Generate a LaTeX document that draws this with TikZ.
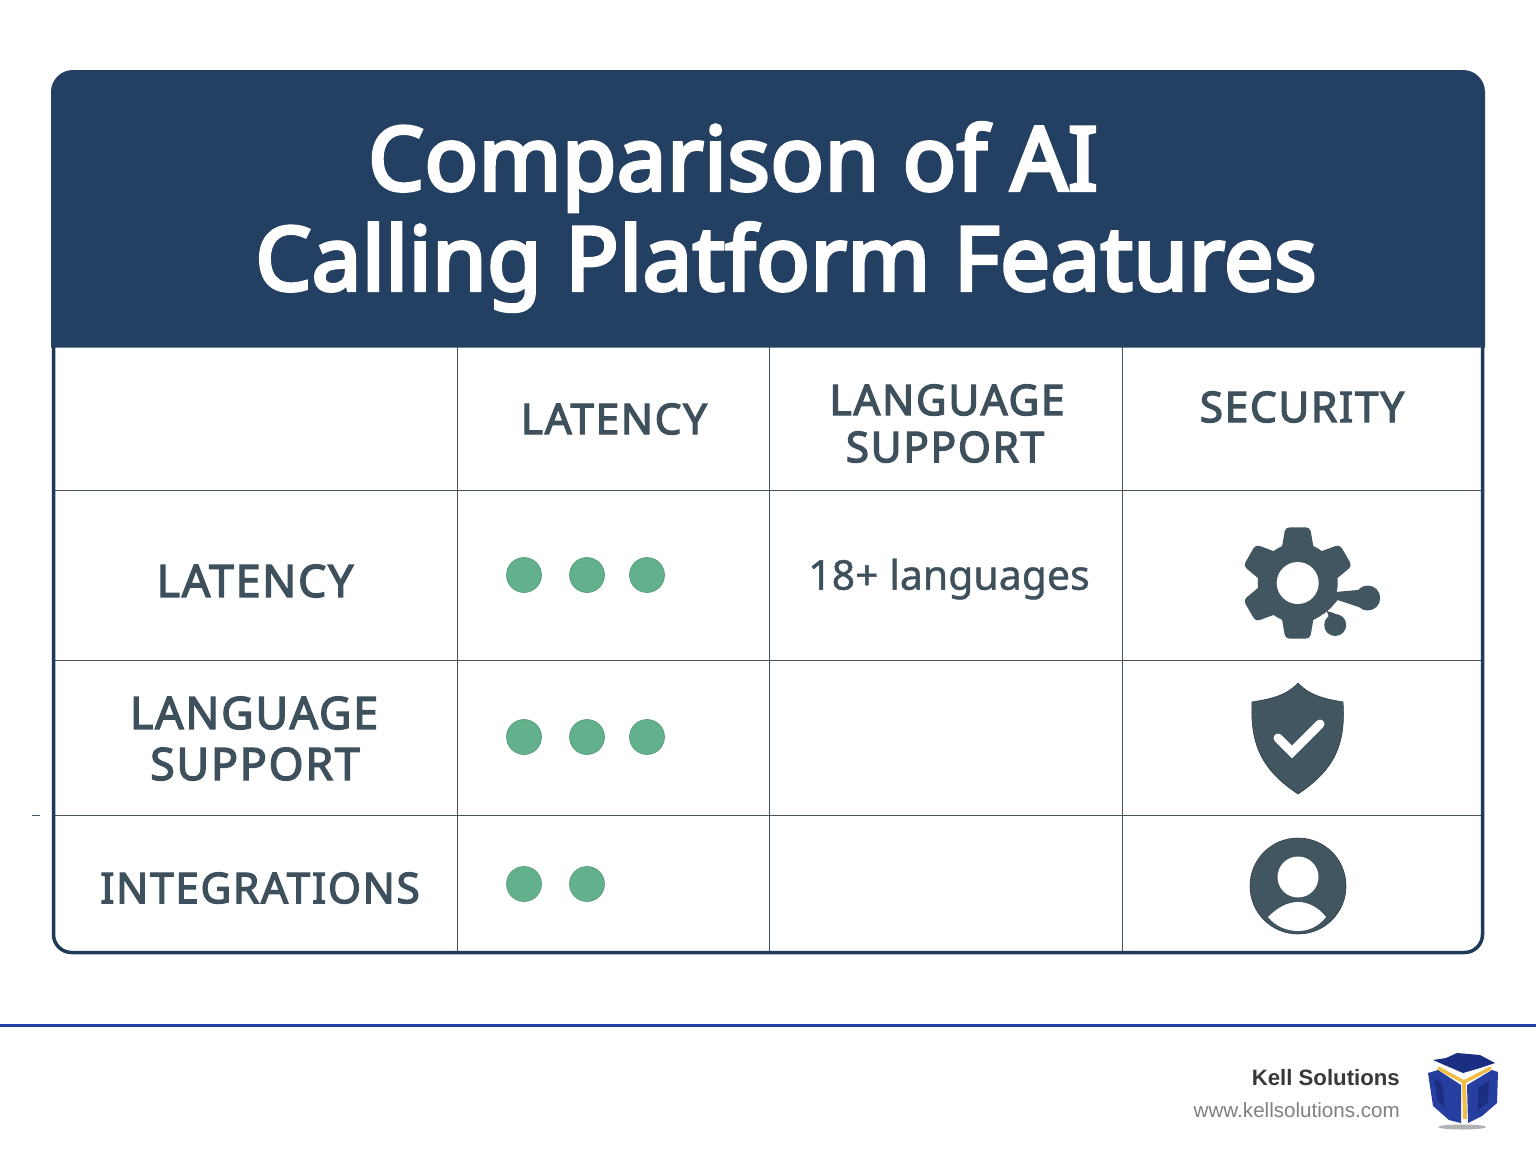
\documentclass[tikz,border=0pt]{standalone}
\usepackage{fontspec}
\setmainfont{Noto Sans}
\newfontfamily\titlefont[FakeBold=4,LetterSpace=0.6]{Noto Sans}
\newfontfamily\labelfont[FakeBold=3,LetterSpace=4]{Noto Sans}
\newfontfamily\mediumfont[FakeBold=1]{Noto Sans}
\newfontfamily\footfont{Liberation Sans}
\definecolor{headblue}{RGB}{35,63,97}
\definecolor{borderblue}{RGB}{30,58,90}
\definecolor{gridgray}{RGB}{70,84,96}
\definecolor{labelgray}{RGB}{62,80,92}
\definecolor{icongray}{RGB}{65,86,96}
\definecolor{dotgreen}{RGB}{98,177,140}
\definecolor{rulecolor}{RGB}{36,64,160}
\definecolor{logoblue}{RGB}{38,62,160}
\definecolor{logodark}{RGB}{28,46,130}
\definecolor{logoyellow}{RGB}{240,190,70}
\tikzset{
  titletext/.style={text=white, inner sep=0pt, font=\titlefont\fontsize{88.5}{96}\selectfont},
  celltext/.style={text=labelgray, inner sep=0pt, font=\labelfont\fontsize{42.3}{50}\selectfont},
  rowtext/.style={text=labelgray, inner sep=0pt, font=\labelfont\fontsize{44.7}{52}\selectfont},
  ratingdot/.style={circle, fill=dotgreen, draw=dotgreen!85!black, line width=0.6pt, minimum size=35pt, inner sep=0pt},
  gridline/.style={draw=gridgray, line width=1pt},
  iconfill/.style={fill=icongray}
}
\begin{document}
\begin{tikzpicture}[x=1pt, y=-1pt]
  \useasboundingbox (0,0) rectangle (1536,1154);
  % Header and frame
  \fill[white] (0,0) rectangle (1536,1154);
  \draw[gridline] (55,490) -- (1481,490);
  \draw[gridline] (55,660) -- (1481,660);
  \draw[gridline] (55,815) -- (1481,815);
  \draw[gridline] (457,347) -- (457,952);
  \draw[gridline] (769,347) -- (769,952);
  \draw[gridline] (1122,347) -- (1122,952);
  \draw[borderblue, line width=3.5pt, rounded corners=18pt] (53.5,340) -- (53.5,952.5) -- (1482.5,952.5) -- (1482.5,340);
  \fill[headblue] (51,347.5) -- (51,92) arc[start angle=180, end angle=90, x radius=22, y radius=-22] -- (1463,70) arc[start angle=90, end angle=0, x radius=22, y radius=-22] -- (1485,347.5) -- cycle;
  \draw[gridline] (32,815) -- (40,815);
  \draw[rulecolor, line width=2.6pt] (0,1025.5) -- (1536,1025.5);
  % Title
  \node[titletext] (title1) at (733,167) {Comparison of AI};
  \node[titletext] (title2) at (786,267) {Calling Platform Features};
  % Column heads
  \node[celltext] (collatency) at (614,419) {LATENCY};
  \node[celltext] (collang1) at (947,400) {LANGUAGE};
  \node[celltext] (collang2) at (945,447) {SUPPORT};
  \node[celltext] (colsecurity) at (1302,407) {SECURITY};
  % Row heads
  \node[rowtext] (rowlatency) at (255,581) {LATENCY};
  \node[rowtext] (rowlang1) at (254,713) {LANGUAGE};
  \node[rowtext] (rowlang2) at (255,764) {SUPPORT};
  \node[celltext] (rowintegr) at (260,888) {INTEGRATIONS};
  \node[text=labelgray, inner sep=0pt, font=\mediumfont\fontsize{41}{46}\selectfont] (languages) at (949,579) {18+ languages};
  % Rating dots
  \foreach \dotx/\doty/\dotname in {524/575/a, 587/575/b, 647/575/c, 524/737/d, 587/737/e, 647/737/f, 524/884/g, 587/884/h}
    \node[ratingdot] (dot\dotname) at (\dotx,\doty) {};
  % Gear icon
  \begin{scope}[shift={(1297.7,583)}]
    \fill[iconfill] (0,0) circle (40);
    \foreach \ang in {90,150,210,270,330}
      \fill[iconfill, rounded corners=4pt] (\ang-26:37) -- (\ang-12.5:57) -- (\ang+12.5:57) -- (\ang+26:37) -- cycle;
    \fill[iconfill] (30,-20) -- (37.5,-14) -- (37.5,9) -- (60,7) -- (64,25) -- (40,17) -- (33,25) -- (26,31) -- (15,20) -- cycle;
    \fill[iconfill] (70,15) circle (12.5);
    \fill[iconfill] (37.5,42) circle (11);
    \fill[iconfill] (29,28) -- (36,30) -- (42,34) -- (34,42) -- cycle;
    \fill[white] (0,0) circle (21);
  \end{scope}
  % Shield icon
  \fill[iconfill, draw=icongray!70!black, line width=0.6pt] (1298,683) .. controls (1286,696) and (1270,699) .. (1252,702) .. controls (1250,745) and (1262,770) .. (1298,794) .. controls (1334,770) and (1346,745) .. (1343,702) .. controls (1326,699) and (1310,696) .. (1298,683) -- cycle;
  \draw[white, line width=9pt, line cap=round, line join=miter] (1278,738) -- (1292,752) -- (1320,724);
  % Person icon
  \fill[iconfill, draw=icongray!70!black, line width=0.6pt] (1298,886) circle (48);
  \fill[white] (1298,877) circle (20.5);
  \fill[white] (1268,917) .. controls (1278,907) and (1288,902) .. (1298,902) .. controls (1308,902) and (1318,907) .. (1326,917) .. controls (1318,927) and (1308,931) .. (1298,931) .. controls (1288,931) and (1276,927) .. (1268,917) -- cycle;
  % Footer
  \node[anchor=east, inner sep=0pt, text=black!78, font=\footfont\bfseries\fontsize{22.2}{28}\selectfont] (brand) at (1400,1078) {Kell Solutions};
  \node[anchor=east, inner sep=0pt, text=black!50, font=\footfont\fontsize{20.6}{26}\selectfont] (website) at (1400,1110) {www.kellsolutions.com};
  % Logo
  \fill[black!30] (1462,1127) ellipse (24 and 2.5);
  \fill[logodark] (1433,1060) -- (1446,1058) -- (1457,1053) -- (1480,1055) -- (1495,1063) -- (1480,1068) -- (1463,1073) -- cycle;
  \fill[logoblue] (1428,1073) -- (1438,1070) -- (1461,1085) -- (1461,1123) -- (1449,1120) -- (1433,1106) -- cycle;
  \fill[logoblue] (1467,1085) -- (1492,1070) -- (1498,1072) -- (1497,1103) -- (1482,1116) -- (1468,1123) -- cycle;
  \fill[logodark] (1434,1078) -- (1442,1083) -- (1445,1108) -- (1438,1102) -- cycle;
  \fill[logodark] (1478,1088) -- (1489,1081) -- (1488,1102) -- (1478,1110) -- cycle;
  \draw[logoyellow, line width=3.5pt] (1438,1068) -- (1464,1082) -- (1491,1068);
  \draw[logoyellow, line width=4pt] (1464,1082) -- (1465,1119);
\end{tikzpicture}
\end{document}
